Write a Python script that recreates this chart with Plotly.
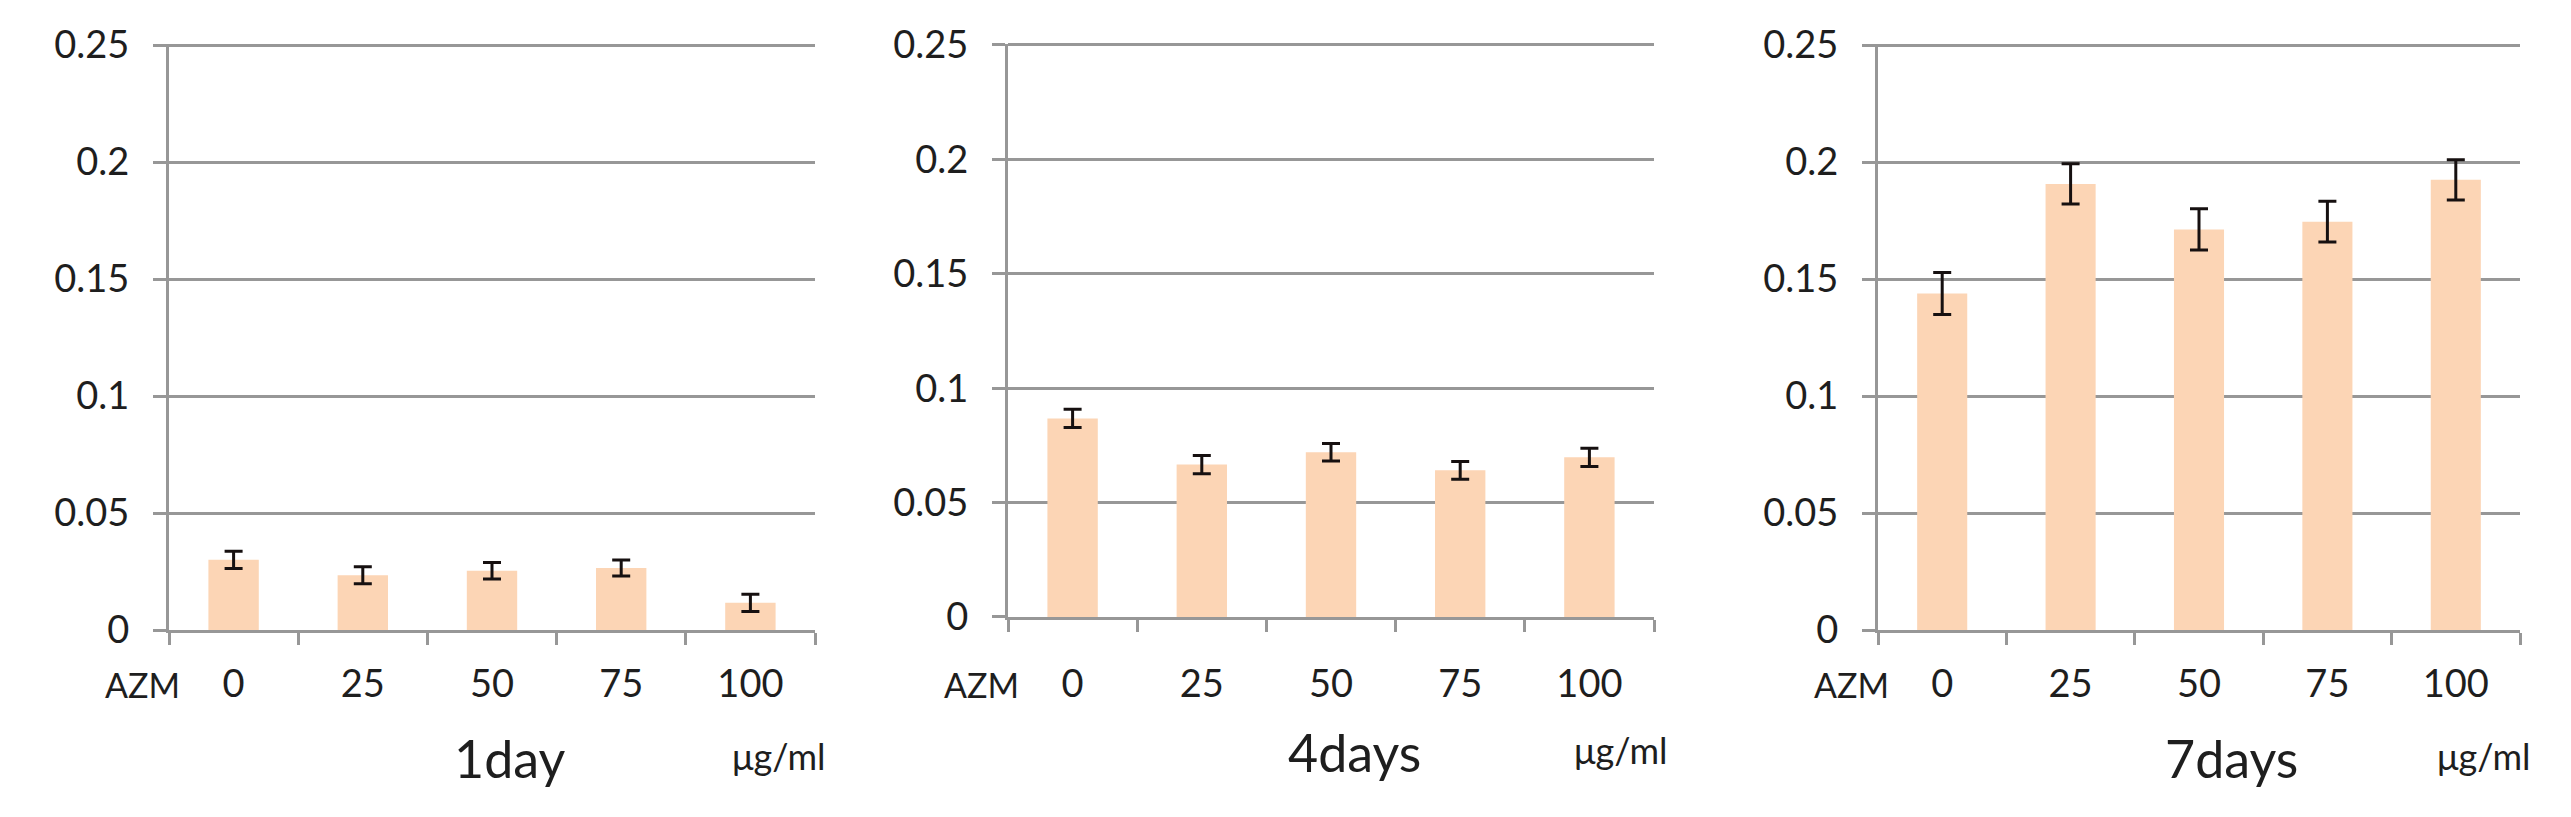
import plotly.graph_objects as go

doses = ["0", "25", "50", "75", "100"]
day1 = [0.0300, 0.0234, 0.0253, 0.0265, 0.0116]
day1_err = [0.0037, 0.0036, 0.0035, 0.0034, 0.0037]
day4 = [0.0868, 0.0666, 0.0720, 0.0641, 0.0698]
day4_err = [0.0040, 0.0040, 0.0038, 0.0039, 0.0040]
day7 = [0.1438, 0.1906, 0.1712, 0.1745, 0.1924]
day7_err = [0.0090, 0.0086, 0.0088, 0.0087, 0.0086]
titles = ["1day", "4days", "7days"]
y_ticks = [0, 0.05, 0.1, 0.15, 0.2, 0.25]
y_labels = ["0", "0.05", "0.1", "0.15", "0.2", "0.25"]

PAGE_W, PAGE_H = 2571, 817
OFF = 8  # default body margin of the html page
W, H = PAGE_W - 2 * OFF, PAGE_H - 2 * OFF
FONT = "Lato"
TXT = "#1e1e1e"
GRID = "#979797"
BAR = "#FCD5B5"
YMAX = 0.2505  # a hair above 0.25 so the top gridline is kept

# page-pixel boxes of each panel: left, right, y of zero line, y of the 0.25 line
boxes = [
    dict(l=169, r=815, zero=630, top=45, title_x=510, title_y=758, unit_x=730, lab=684),
    dict(l=1008, r=1654, zero=617, top=45, title_x=1354, title_y=752, unit_x=1572, lab=684),
    dict(l=1878, r=2520, zero=630, top=45, title_x=2231, title_y=758, unit_x=2435, lab=684),
]
series = [(day1, day1_err), (day4, day4_err), (day7, day7_err)]


def px(x):
    return (x - OFF) / W


def py(y):
    return 1 - (y - OFF) / H


fig = go.Figure()
annotations = []
for i, (b, (vals, errs)) in enumerate(zip(boxes, series), start=1):
    sfx = "" if i == 1 else str(i)
    top_px = b["top"] - (YMAX - 0.25) / 0.25 * (b["zero"] - b["top"])
    fig.add_bar(
        x=doses,
        y=vals,
        marker=dict(color=BAR, line=dict(width=0)),
        error_y=dict(type="data", array=errs, color="#161010", thickness=3, width=9),
        xaxis="x" + sfx,
        yaxis="y" + sfx,
        showlegend=False,
    )
    fig.update_layout({
        "xaxis" + sfx: dict(
            domain=[px(b["l"]), px(b["r"])],
            anchor="y" + sfx,
            type="category",
            automargin=False,
            showline=True, linecolor=GRID, linewidth=3,
            ticks="outside", tickson="boundaries", ticklen=12, tickwidth=3, tickcolor=GRID,
            showgrid=False,
            tickfont=dict(family=FONT, size=38, color=TXT),
            ticklabelstandoff=b["lab"] - b["zero"] - 36,
        ),
        "yaxis" + sfx: dict(
            domain=[py(b["zero"]), py(top_px)],
            anchor="x" + sfx,
            range=[0, YMAX],
            automargin=False,
            tickvals=y_ticks, ticktext=y_labels,
            showline=True, linecolor=GRID, linewidth=3,
            showgrid=True, gridcolor=GRID, gridwidth=3,
            zeroline=False,
            ticks="outside", ticklen=13, tickwidth=3, tickcolor=GRID,
            tickfont=dict(family=FONT, size=38, color=TXT),
            ticklabelstandoff=16,
        ),
    })
    annotations += [
        dict(text="AZM", x=px(b["l"] + 13), y=py(b["lab"]), xref="paper", yref="paper",
             xanchor="right", yanchor="middle", showarrow=False,
             font=dict(family=FONT, size=34, color=TXT)),
        dict(text=titles[i - 1], x=px(b["title_x"]), y=py(b["title_y"]), xref="paper", yref="paper",
             xanchor="center", yanchor="middle", showarrow=False,
             font=dict(family=FONT, size=52, color=TXT)),
        dict(text="μg/ml", x=px(b["unit_x"]), y=py(b["title_y"] - 2), xref="paper", yref="paper",
             xanchor="left", yanchor="middle", showarrow=False,
             font=dict(family=FONT, size=36, color=TXT)),
    ]

fig.update_layout(
    width=W, height=H,
    margin=dict(l=0, r=0, t=0, b=0, autoexpand=False),
    paper_bgcolor="white", plot_bgcolor="white",
    bargap=0.61,
    annotations=annotations,
)
fig.write_html("out.html")
